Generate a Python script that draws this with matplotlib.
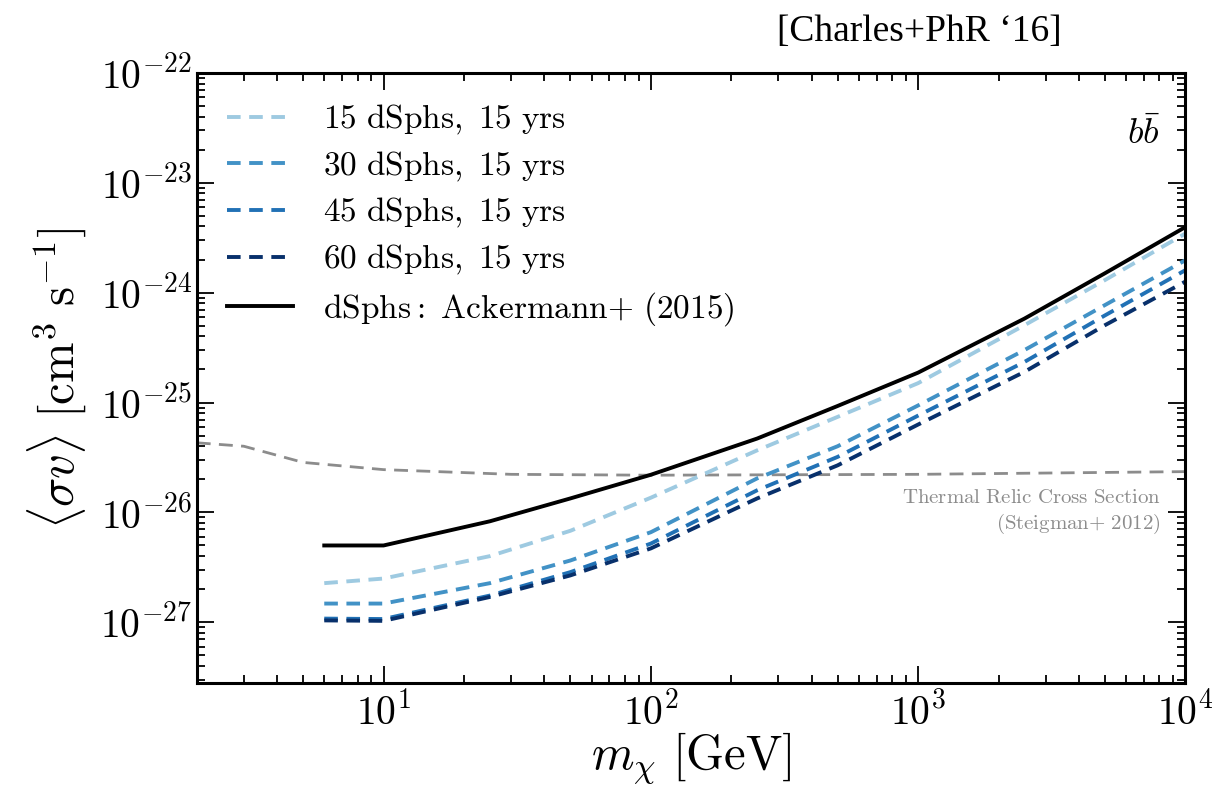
import numpy as np
import matplotlib
matplotlib.use("Agg")
import matplotlib.pyplot as plt
from matplotlib.ticker import LogLocator, NullFormatter, FuncFormatter

plt.rcParams['mathtext.fontset'] = 'cm'
plt.rcParams['font.family'] = 'serif'
plt.rcParams['font.serif'] = ['DejaVu Serif']

# dark matter masses [GeV]
mass = [6, 10, 25, 50, 100, 250, 500, 1000, 2500, 5000, 10000]

# <sigma v> limits [cm^3 s^-1]
ackermann = [5.0e-27, 5.0e-27, 8.3e-27, 1.34e-26, 2.2e-26, 4.7e-26, 9.3e-26, 1.87e-25, 5.8e-25, 1.5e-24, 3.95e-24]
dsph15 = [2.27e-27, 2.5e-27, 4.0e-27, 6.8e-27, 1.36e-26, 3.67e-26, 7.4e-26, 1.5e-25, 5.05e-25, 1.3e-24, 3.45e-24]
dsph30 = [1.48e-27, 1.48e-27, 2.27e-27, 3.65e-27, 6.6e-27, 2.04e-26, 4.0e-26, 9.4e-26, 3.0e-25, 7.7e-25, 1.97e-24]
dsph45 = [1.08e-27, 1.07e-27, 1.75e-27, 2.86e-27, 5.2e-27, 1.59e-26, 3.2e-26, 7.6e-26, 2.34e-25, 6.2e-25, 1.6e-24]
dsph60 = [1.04e-27, 1.03e-27, 1.7e-27, 2.67e-27, 4.7e-27, 1.34e-26, 2.68e-26, 6.3e-26, 1.9e-25, 5.05e-25, 1.26e-24]

# thermal relic cross section (Steigman+ 2012)
relic_mass = [2, 3, 5, 10, 30, 100, 1000, 10000]
relic_sv = [4.3e-26, 4.0e-26, 2.85e-26, 2.45e-26, 2.22e-26, 2.18e-26, 2.22e-26, 2.35e-26]

labels = ["15 dSphs, 15 yrs", "30 dSphs, 15 yrs", "45 dSphs, 15 yrs", "60 dSphs, 15 yrs"]
colors = ["#9ecae1", "#4292c6", "#2171b5", "#08306b"]

x_ticks = [1e1, 1e2, 1e3, 1e4]
y_ticks = [1e-27, 1e-26, 1e-25, 1e-24, 1e-23, 1e-22]


def cm_text(s):
    # roman text in computer modern through mathtext
    return r"$\mathrm{" + s.replace(" ", r"\ ") + "}$"


fig = plt.figure(figsize=(12.22, 7.92), dpi=100)
ax = fig.add_axes([0.161, 0.1376, 0.809, 0.7704])

ax.plot(relic_mass, relic_sv, ls=(0, (5, 3)), color="#8c8c8c", lw=2.0)

for y, lab, c in zip([dsph15, dsph30, dsph45, dsph60], labels, colors):
    ax.plot(mass, y, ls=(0, (3.5, 2.2)), color=c, lw=2.8, label=cm_text(lab))
ax.plot(mass, ackermann, color="black", lw=2.8,
        label=r"$\mathrm{dSphs{:}\ Ackermann{+}\ (2015)}$")

ax.set_xscale("log")
ax.set_yscale("log")
ax.set_xlim(2, 1e4)
ax.set_ylim(2.8e-28, 1e-22)

pow_fmt = FuncFormatter(lambda v, pos: r"$10^{%d}$" % int(round(np.log10(v))))
ax.set_xticks(x_ticks)
ax.set_yticks(y_ticks)
ax.xaxis.set_major_formatter(pow_fmt)
ax.yaxis.set_major_formatter(pow_fmt)
ax.xaxis.set_minor_locator(LogLocator(base=10, subs=np.arange(2, 10), numticks=20))
ax.yaxis.set_minor_locator(LogLocator(base=10, subs=np.arange(2, 10), numticks=20))
ax.xaxis.set_minor_formatter(NullFormatter())
ax.yaxis.set_minor_formatter(NullFormatter())
ax.set_xlim(2, 1e4)
ax.set_ylim(2.8e-28, 1e-22)
ax.tick_params(which="both", direction="in", top=True, right=True, labelsize=28.5, width=1.3)
ax.tick_params(which="major", length=12, pad=7)
ax.tick_params(axis="y", which="major", pad=3)
ax.tick_params(which="minor", length=6)
for s in ax.spines.values():
    s.set_linewidth(2.2)

ax.set_xlabel(r"$m_\chi\ [\mathrm{GeV}]$", fontsize=35, labelpad=-2)
ax.set_ylabel(r"$\langle \sigma v \rangle\ [\mathrm{cm}^3\ \mathrm{s}^{-1}]$", fontsize=35, labelpad=8)

ax.legend(loc="upper left", frameon=False, fontsize=24, handlelength=2.0,
          labelspacing=0.38, borderaxespad=0.5, handletextpad=0.9)

ax.text(0.975, 0.9, r"$b\bar{b}$", transform=ax.transAxes, ha="right", va="center", fontsize=26)
ax.text(0.975, 0.28, cm_text("Thermal Relic Cross Section") + "\n" + cm_text("(Steigman{+} 2012)"),
        transform=ax.transAxes, ha="right", va="center", fontsize=15, color="#8c8c8c",
        linespacing=1.25, multialignment="right")

fig.text(0.752, 0.96, "[Charles+PhR \u201816]", ha="center", va="center", fontsize=27,
         family="Liberation Serif")

fig.savefig("out.png", dpi=100)
